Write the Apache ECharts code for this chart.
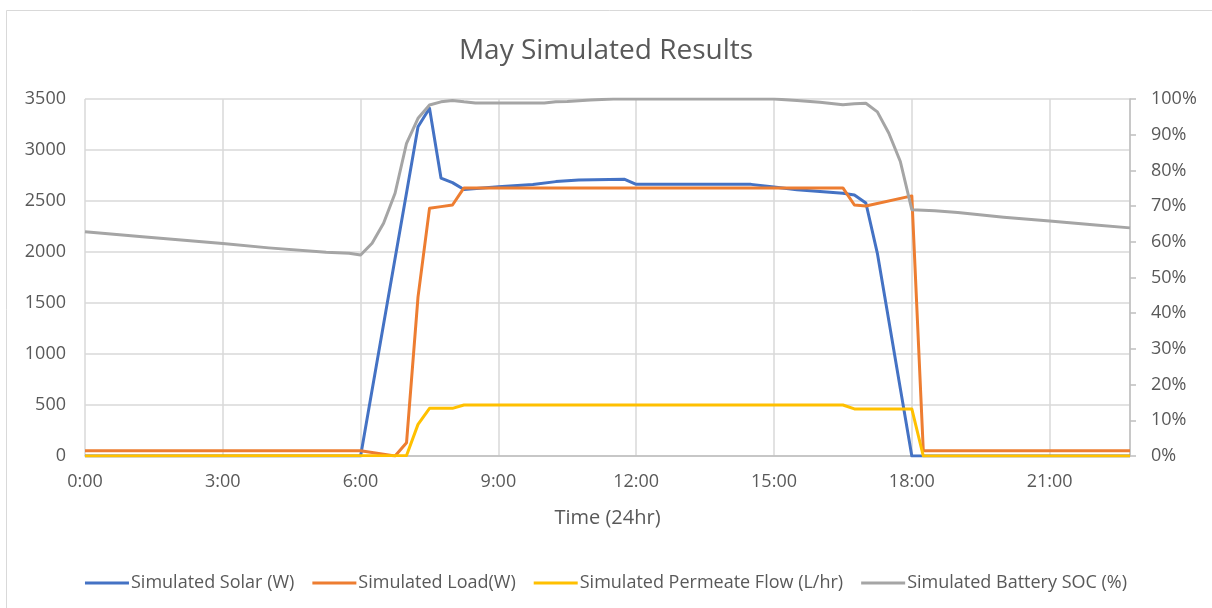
<!DOCTYPE html>
<html>
<head>
<meta charset="utf-8">
<script src="https://cdn.jsdelivr.net/npm/echarts@6/dist/echarts.min.js"></script>
<style>
html,body{margin:0;padding:0;background:#fff;}
#chart{width:1212px;height:608px;}
</style>
</head>
<body>
<div id="chart"></div>
<script>
// ---- data (time "H:MM", values) ----
const xTickLabels = ['0:00','3:00','6:00','9:00','12:00','15:00','18:00','21:00'];

const solarTimes  = ['0:00','6:00','6:15','6:30','6:45','7:00','7:15','7:30','7:45','8:00','8:15','9:00','9:45','10:15','10:45','11:45','12:00','14:30','15:00','15:30','16:00','16:30','16:45','17:00','17:15','17:30','17:45','18:00','22:45'];
const solarValues = [0,0,646,1291,1937,2582,3228,3410,2725,2680,2612,2640,2662,2690,2705,2713,2663,2663,2637,2610,2592,2575,2559,2480,1987,1325,662,0,0];

const loadTimes  = ['0:00','6:00','6:45','7:00','7:15','7:30','7:45','8:00','8:15','16:30','16:45','17:00','18:00','18:15','22:45'];
const loadValues = [52,52,0,130,1560,2428,2445,2461,2628,2628,2461,2451,2550,52,52];

const flowTimes  = ['0:00','7:00','7:15','7:30','8:00','8:15','16:30','16:45','18:00','18:15','22:45'];
const flowValues = [0,5,310,467,467,500,500,462,462,0,0];

const socTimes  = ['0:00','1:15','3:00','4:00','5:15','5:45','6:00','6:15','6:30','6:45','7:00','7:15','7:30','7:45','8:00','8:15','8:30','10:00','10:15','10:30','11:00','11:30','15:00','15:15','15:30','16:00','16:30','16:45','17:00','17:15','17:30','17:45','18:00','18:30','19:00','20:00','21:00','22:00','22:45'];
const socValues = [62.8,61.4,59.5,58.3,57.1,56.8,56.3,59.6,65.2,73.6,87.6,94.6,98.3,99.2,99.6,99.2,98.9,98.9,99.2,99.3,99.7,100,100,99.8,99.6,99.1,98.4,98.7,98.8,96.4,90.4,82.5,69.0,68.7,68.2,66.9,65.8,64.7,63.9];

// ---- helpers ----
function toMin(t){ const p = t.split(':'); return (+p[0])*60 + (+p[1]); }
function pairs(ts, vs){ return ts.map((t,i)=>[toMin(t), vs[i]]); }
function fmtTime(m){ const h = Math.floor(m/60), mm = m%60; return h + ':' + (mm<10?'0':'') + mm; }

const xMax = toMin(solarTimes[solarTimes.length-1]);
const tickSet = new Set(xTickLabels.map(toMin));

const txt = '#595959';
const grid = '#d9d9d9';
const fontFam = '"Open Sans", "Liberation Sans", sans-serif';

const chart = echarts.init(document.getElementById('chart'), null, {renderer:'canvas'});
chart.setOption({
  animation:false,
  backgroundColor:'#fff',
  title:{
    text:'May Simulated Results',
    left:'center', top:32,
    textStyle:{color:txt, fontSize:28, fontWeight:'normal', fontFamily:fontFam}
  },
  graphic:[{
    type:'rect', shape:{x:6.5,y:10.5,width:1220,height:620},
    style:{fill:'none', stroke:grid, lineWidth:1}, silent:true
  }],
  grid:{left:85, right:82, top:99, bottom:152, containLabel:false},
  legend:{
    top:569, left:'center',
    icon:'rect', itemWidth:44, itemHeight:3, itemGap:18,
    textStyle:{color:txt, fontSize:18, fontFamily:fontFam, padding:[0,0,0,-3]},
    data:['Simulated Solar (W)','Simulated Load(W)','Simulated Permeate Flow (L/hr)','Simulated Battery SOC (%)']
  },
  xAxis:{
    type:'value', min:0, max:xMax, interval:180,
    name:'Time (24hr)', nameLocation:'middle', nameGap:52,
    nameTextStyle:{color:txt, fontSize:20, fontFamily:fontFam},
    axisLine:{show:true, lineStyle:{color:'#bfbfbf', width:1.5}},
    axisTick:{show:false},
    axisLabel:{color:txt, fontSize:18, fontFamily:fontFam, margin:17, showMaxLabel:false,
      formatter:v=> tickSet.has(v) ? fmtTime(v) : ''},
    splitLine:{show:true, lineStyle:{color:grid, width:1.5}}
  },
  yAxis:[{
    type:'value', min:0, max:3500, interval:500,
    axisLine:{show:false}, axisTick:{show:false},
    axisLabel:{color:txt, fontSize:18, fontFamily:fontFam, margin:19, formatter:v=>String(v)},
    splitLine:{show:true, lineStyle:{color:grid, width:1.5}}
  },{
    type:'value', min:0, max:100, interval:10, position:'right',
    axisLine:{show:true, lineStyle:{color:'#bfbfbf', width:1.5}},
    axisTick:{show:true, inside:false, length:6, lineStyle:{color:'#bfbfbf', width:1.5}},
    axisLabel:{color:txt, fontSize:18, fontFamily:fontFam, margin:21, formatter:v=>v+'%'},
    splitLine:{show:false}
  }],
  series:[
    {name:'Simulated Solar (W)', type:'line', yAxisIndex:0, data:pairs(solarTimes, solarValues),
     showSymbol:false, symbol:'none', lineStyle:{color:'#4472C4', width:3, join:'round'}, itemStyle:{color:'#4472C4'}},
    {name:'Simulated Load(W)', type:'line', yAxisIndex:0, data:pairs(loadTimes, loadValues),
     showSymbol:false, symbol:'none', lineStyle:{color:'#ED7D31', width:3, join:'round'}, itemStyle:{color:'#ED7D31'}},
    {name:'Simulated Permeate Flow (L/hr)', type:'line', yAxisIndex:0, data:pairs(flowTimes, flowValues),
     showSymbol:false, symbol:'none', lineStyle:{color:'#FFC000', width:3, join:'round'}, itemStyle:{color:'#FFC000'}},
    {name:'Simulated Battery SOC (%)', type:'line', yAxisIndex:1, data:pairs(socTimes, socValues),
     showSymbol:false, symbol:'none', lineStyle:{color:'#A5A5A5', width:3, join:'round'}, itemStyle:{color:'#A5A5A5'}}
  ]
});
</script>
</body>
</html>
